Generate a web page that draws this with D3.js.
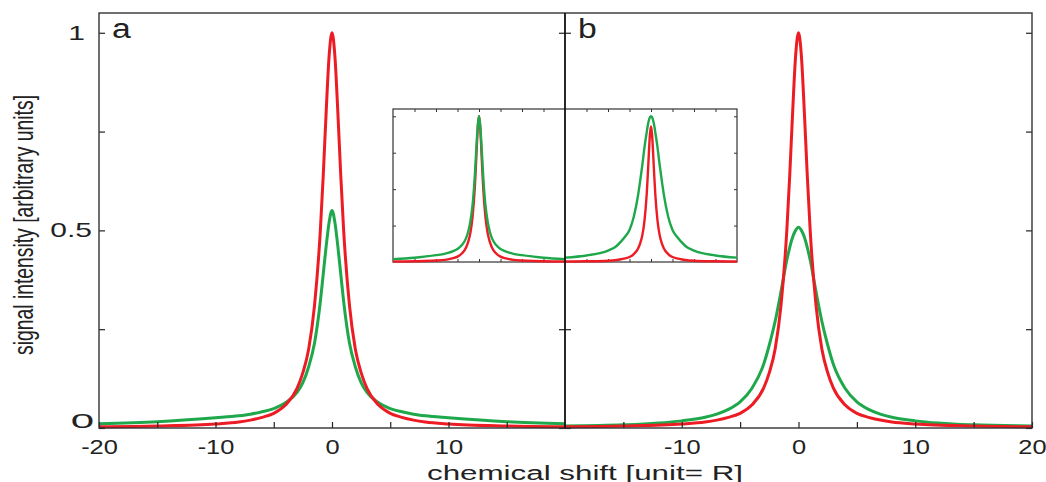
<!DOCTYPE html>
<html>
<head>
<meta charset="utf-8">
<script src="https://cdn.jsdelivr.net/npm/d3@7"></script>
<style>
  body { margin: 0; background: #fff; }
  svg { display: block; font-family: "Liberation Sans", Arial, sans-serif; }
</style>
</head>
<body>
<svg id="chart" width="1046" height="482"></svg>
<script>
// sample positions along chemical shift (unit = R), left half; mirrored for x > 0
var halfShifts = [-20, -15, -10, -8, -7, -6, -5, -4, -3, -2.5, -2, -1.5, -1, -0.75, -0.5, -0.25, 0];

// main panels
var redHalf    = [0.003, 0.005, 0.01, 0.015, 0.02, 0.027, 0.037, 0.058, 0.1, 0.14, 0.2, 0.31, 0.5, 0.64, 0.8, 0.94, 1];
var greenAHalf = [0.011, 0.016, 0.026, 0.031, 0.035, 0.041, 0.049, 0.064, 0.09, 0.115, 0.155, 0.215, 0.32, 0.39, 0.46, 0.52, 0.55];
var greenBHalf = [0.005, 0.008, 0.018, 0.027, 0.035, 0.047, 0.066, 0.1, 0.16, 0.21, 0.27, 0.345, 0.425, 0.457, 0.483, 0.5, 0.508];

// inset (normalised spectra)
var insetRedAHalf   = [0.003, 0.005, 0.01, 0.015, 0.02, 0.027, 0.037, 0.058, 0.1, 0.14, 0.2, 0.31, 0.5, 0.64, 0.8, 0.94, 1];
var insetGreenAHalf = [0.02, 0.029, 0.047, 0.056, 0.064, 0.075, 0.089, 0.116, 0.164, 0.209, 0.28, 0.39, 0.58, 0.71, 0.84, 0.945, 1];
var insetRedBHalf   = [0.003, 0.005, 0.009, 0.014, 0.019, 0.025, 0.034, 0.054, 0.093, 0.13, 0.186, 0.288, 0.465, 0.595, 0.744, 0.874, 0.93];
var insetGreenBHalf = [0.03, 0.045, 0.078, 0.11, 0.14, 0.175, 0.22, 0.31, 0.46, 0.56, 0.67, 0.79, 0.89, 0.937, 0.971, 0.993, 1];

var yTicks = [0, 0.25, 0.5, 0.75, 1];
var xMinorTicks = [-15, -10, -5, 0, 5, 10, 15];
var xLabelsA = [-20, -10, 0, 10];
var xLabelsB = [-10, 0, 10, 20];

var RED = "#ed1c24", GREEN = "#1fa84b", INK = "#222";

// mirror a half profile (x<=0) to full length
function full(half) {
    return half.concat(half.slice(0, half.length - 1).reverse());
}
var shifts = halfShifts.concat(halfShifts.slice(0, halfShifts.length - 1).reverse().map(function (s) { return -s; }));

var svg = d3.select("#chart");

var plotTop = 13, plotBottom = 428;
var xA = d3.scaleLinear().domain([-20, 20]).range([99, 565]);
var xB = d3.scaleLinear().domain([-20, 20]).range([565, 1032]);
var y = d3.scaleLinear().domain([0, 1.05]).range([plotBottom, plotTop]);

var iTop = 109, iBottom = 262;
var xiA = d3.scaleLinear().domain([-20, 20]).range([393, 565]);
var xiB = d3.scaleLinear().domain([-20, 20]).range([565, 737]);
var yi = d3.scaleLinear().domain([0, 1.05]).range([iBottom, iTop]);

function drawCurve(g, xs, ys, vals, color, width) {
    var pts = shifts.map(function (s, i) { return [s, vals[i]]; });
    var line = d3.line()
        .x(function (d) { return xs(d[0]); })
        .y(function (d) { return ys(d[1]); })
        .curve(d3.curveMonotoneX);
    g.append("path")
        .datum(pts)
        .attr("d", line)
        .attr("fill", "none")
        .attr("stroke", color)
        .attr("stroke-width", width)
        .attr("stroke-linejoin", "round");
}

// ---- main panels ----
var main = svg.append("g");

drawCurve(main, xA, y, full(greenAHalf), GREEN, 3);
drawCurve(main, xA, y, full(redHalf), RED, 3);
drawCurve(main, xB, y, full(greenBHalf), GREEN, 3);
drawCurve(main, xB, y, full(redHalf), RED, 3);

// bottom axes, ticks point inward
function bottomAxis(xs, labels) {
    var vals = xMinorTicks.concat(labels.filter(function (d) { return xMinorTicks.indexOf(d) < 0; }));
    var g = svg.append("g")
        .attr("transform", "translate(0," + plotBottom + ")")
        .call(d3.axisBottom(xs)
            .tickValues(vals)
            .tickSizeInner(-6)
            .tickSizeOuter(0)
            .tickPadding(12)
            .tickFormat(function (d) { return labels.indexOf(d) >= 0 ? String(d) : ""; }));
    g.select(".domain").remove();
    g.selectAll("line").attr("stroke", INK).attr("stroke-width", 1.2);
    g.selectAll("text")
        .attr("fill", INK)
        .style("font-size", "20px")
        .attr("transform", "scale(1.27,1)");
}
bottomAxis(xA, xLabelsA);
bottomAxis(xB, xLabelsB);

// vertical tick rows (no labels)
function sideTicks(x, ticksLeft) {
    var ax = ticksLeft ? d3.axisRight(y) : d3.axisLeft(y);
    var g = svg.append("g")
        .attr("transform", "translate(" + x + ",0)")
        .call(ax.tickValues(yTicks).tickSizeInner(-6).tickSizeOuter(0).tickFormat(""));
    g.select(".domain").remove();
    g.selectAll("line").attr("stroke", INK).attr("stroke-width", 1.2);
    return g;
}
sideTicks(99, false);
sideTicks(565, true);
sideTicks(565, false);
sideTicks(1032, true);

// y labels (right edge, vertical offset, horizontal stretch)
var yLabels = [
    { v: 1, t: "1", right: 85, dy: 7, sx: 1.5 },
    { v: 0.5, t: "0.5", right: 92, dy: 7, sx: 1.5 },
    { v: 0, t: "0", right: 94, dy: 0, sx: 2.1 }
];
svg.selectAll(".ylab").data(yLabels).enter().append("text")
    .attr("class", "ylab")
    .attr("text-anchor", "end")
    .attr("fill", INK)
    .style("font-size", "20px")
    .attr("transform", function (d) {
        return "translate(" + d.right + "," + (y(d.v) + d.dy) + ") scale(" + d.sx + ",1)";
    })
    .text(function (d) { return d.t; });

// frame
svg.append("rect")
    .attr("x", 99).attr("y", plotTop)
    .attr("width", 1032 - 99).attr("height", plotBottom - plotTop)
    .attr("fill", "none").attr("stroke", "#333").attr("stroke-width", 1.4);

// panel letters
svg.append("text").attr("transform", "translate(112,38) scale(1.25,1)")
    .style("font-size", "27px").attr("fill", INK).text("a");
svg.append("text").attr("transform", "translate(578,38) scale(1.25,1)")
    .style("font-size", "27px").attr("fill", INK).text("b");

// ---- inset ----
var inset = svg.append("g");
inset.append("rect")
    .attr("x", 393).attr("y", iTop)
    .attr("width", 737 - 393).attr("height", iBottom - iTop)
    .attr("fill", "#fff").attr("stroke", "#333").attr("stroke-width", 1.2);

function insetTicks(xs) {
    var t = inset.append("g").attr("transform", "translate(0," + iTop + ")")
        .call(d3.axisTop(xs).tickValues(xMinorTicks).tickSizeInner(-3).tickSizeOuter(0).tickFormat(""));
    var b = inset.append("g").attr("transform", "translate(0," + iBottom + ")")
        .call(d3.axisBottom(xs).tickValues(xMinorTicks).tickSizeInner(-3).tickSizeOuter(0).tickFormat(""));
    [t, b].forEach(function (g) {
        g.select(".domain").remove();
        g.selectAll("line").attr("stroke", "#333");
    });
}
insetTicks(xiA);
insetTicks(xiB);

var iyTicks = [0.25, 0.5, 0.75, 1];
var il = inset.append("g").attr("transform", "translate(393,0)")
    .call(d3.axisLeft(yi).tickValues(iyTicks).tickSizeInner(-3).tickSizeOuter(0).tickFormat(""));
var ir = inset.append("g").attr("transform", "translate(737,0)")
    .call(d3.axisRight(yi).tickValues(iyTicks).tickSizeInner(-3).tickSizeOuter(0).tickFormat(""));
[il, ir].forEach(function (g) {
    g.select(".domain").remove();
    g.selectAll("line").attr("stroke", "#333");
});

drawCurve(inset, xiA, yi, full(insetRedAHalf), RED, 2.4);
drawCurve(inset, xiA, yi, full(insetGreenAHalf), GREEN, 2.4);
drawCurve(inset, xiB, yi, full(insetRedBHalf), RED, 2.4);
drawCurve(inset, xiB, yi, full(insetGreenBHalf), GREEN, 2.4);

// divider between a and b, drawn over the inset
svg.append("line")
    .attr("x1", 565).attr("x2", 565).attr("y1", plotTop).attr("y2", plotBottom)
    .attr("stroke", "#111").attr("stroke-width", 1.8);

// axis titles
svg.append("text")
    .attr("x", 585).attr("y", 480)
    .attr("text-anchor", "middle")
    .attr("textLength", 316).attr("lengthAdjust", "spacingAndGlyphs")
    .style("font-size", "20px").attr("fill", INK)
    .text("chemical shift [unit= R]");

svg.append("text")
    .attr("transform", "translate(33,225) rotate(-90)")
    .attr("text-anchor", "middle")
    .attr("textLength", 260).attr("lengthAdjust", "spacingAndGlyphs")
    .style("font-size", "28px").attr("fill", INK)
    .text("signal intensity [arbitrary units]");
</script>
</body>
</html>
